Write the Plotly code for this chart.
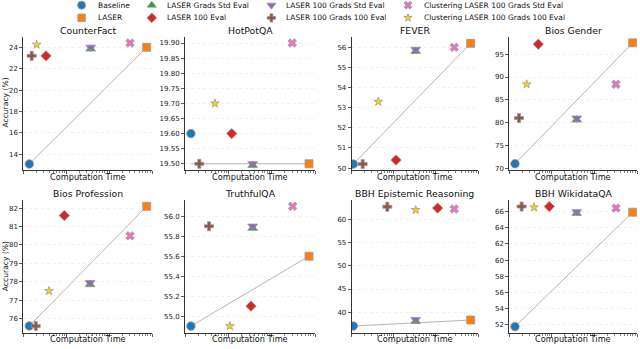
import plotly.graph_objects as go

# ---------------- data ----------------
datasets = ["CounterFact", "HotPotQA", "FEVER", "Bios Gender",
            "Bios Profession", "TruthfulQA", "BBH Epistemic Reasoning", "BBH WikidataQA"]

series_names = ["Baseline", "LASER", "LASER Grads Std Eval", "LASER 100 Eval",
                "LASER 100 Grads Std Eval", "LASER 100 Grads 100 Eval",
                "Clustering LASER 100 Grads Std Eval", "Clustering LASER 100 Grads 100 Eval"]

# accuracy (%) per dataset (same order as datasets)
acc_baseline        = [13.1, 19.60, 50.2, 71.0, 75.6, 54.90, 37.0, 51.8]
acc_laser           = [24.0, 19.50, 56.2, 97.5, 82.1, 55.60, 38.3, 65.9]
acc_grads_std       = [23.85, 19.495, 55.8, 80.6, 77.85, 55.88, 38.0, 65.75]
acc_100_eval        = [23.2, 19.60, 50.4, 97.2, 81.6, 55.10, 62.5, 66.6]
acc_100_grads_std   = [24.0, 19.50, 55.9, 81.0, 77.95, 55.90, 38.4, 65.95]
acc_100_grads_100   = [23.2, 19.50, 50.2, 81.0, 75.6, 55.90, 62.8, 66.6]
acc_clust_std       = [24.4, 19.90, 56.0, 88.4, 80.5, 56.10, 62.3, 66.4]
acc_clust_100       = [24.25, 19.70, 53.3, 88.4, 77.5, 54.90, 62.1, 66.5]

# relative computation time (log scale, arbitrary units)
time_baseline       = [1.38, 1.37, 1.09, 1.36, 1.38, 1.37, 1.09, 1.36]
time_laser          = [752, 728, 670, 792, 752, 728, 670, 792]
time_grads_std      = [37.2, 36.5, 33.1, 38.3, 35.9, 36.5, 33.1, 38.3]
time_100_eval       = [3.38, 12.0, 11.3, 4.80, 9.03, 33.3, 110, 8.71]
time_100_grads_std  = [37.2, 36.5, 33.1, 38.3, 35.9, 36.5, 33.1, 38.3]
time_100_grads_100  = [1.57, 2.14, 1.82, 1.69, 1.95, 3.58, 7.01, 1.95]
time_clust_std      = [307, 299, 273, 321, 307, 305, 273, 321]
time_clust_100      = [2.05, 4.92, 4.28, 2.56, 3.97, 10.9, 33.1, 3.80]

# trend line (baseline -> LASER) start value
trend_start = [13.1, 19.50, 50.2, 71.0, 75.6, 54.9, 37.0, 51.8]

# y-axis settings per dataset
y_ranges = [[12.58, 24.99], [19.481, 19.921], [49.93, 56.53], [69.72, 98.85],
            [75.21, 82.43], [54.83, 56.16], [35.47, 64.19], [51.0, 67.37]]
y_dticks = [2, 0.05, 1, 5, 1, 0.2, 5, 2]
y_formats = ["d", ".2f", "d", "d", "d", ".1f", "d", "d"]

all_acc = [acc_baseline, acc_laser, acc_grads_std, acc_100_eval,
           acc_100_grads_std, acc_100_grads_100, acc_clust_std, acc_clust_100]
all_time = [time_baseline, time_laser, time_grads_std, time_100_eval,
            time_100_grads_std, time_100_grads_100, time_clust_std, time_clust_100]

# ---------------- styles ----------------
colors = ["#1f77b4", "#ff7f0e", "#2ca02c", "#d62728", "#9467bd", "#8c564b", "#e377c2", "#ffd700"]
symbols = ["circle", "square", "triangle-up", "diamond", "triangle-down", "cross", "x", "star"]
sizes = [8.5, 8, 8.5, 8, 8.5, 7.5, 7.5, 6.5]
FONT = "DejaVu Sans"
W, H = 640, 349

# subplot pixel boxes (left, right) per column and (top, bottom) per row
col_px = [(23.3, 152), (185, 315), (351.7, 478), (509.3, 637)]
row_px = [(37, 171), (202, 336)]

fig = go.Figure()
layout = dict(width=W, height=H, margin=dict(l=0, r=0, t=0, b=0),
              paper_bgcolor="white", plot_bgcolor="rgba(0,0,0,0)",
              showlegend=False, font=dict(family=FONT, size=7, color="#222"))
annotations = []

for d in range(8):
    r, c = divmod(d, 4)
    k = d + 1
    xa, ya = f"x{k}", f"y{k}"
    xd = [col_px[c][0] / W, col_px[c][1] / W]
    yd = [1 - row_px[r][1] / H, 1 - row_px[r][0] / H]
    layout[f"xaxis{k}"] = dict(domain=xd, anchor=ya, type="log", range=[0, 3],
                               showticklabels=False, ticks="outside", ticklen=3,
                               tickwidth=0.8, tickcolor="#333", dtick=1,
                               showgrid=False, zeroline=False, showline=True,
                               linecolor="#333", linewidth=1,
                               minor=dict(ticks="outside", ticklen=2, tickwidth=0.6,
                                          tickcolor="#333", showgrid=False))
    layout[f"yaxis{k}"] = dict(domain=yd, anchor=xa, range=y_ranges[d], dtick=y_dticks[d],
                               tick0=0, tickformat=y_formats[d], ticks="outside", ticklen=3,
                               tickwidth=0.8, tickcolor="#333", showline=True,
                               linecolor="#333", linewidth=1, zeroline=False,
                               showgrid=True, gridcolor="#ececec", griddash="dot",
                               gridwidth=0.7, tickfont=dict(size=7, color="#222"))
    # trend line baseline -> LASER
    fig.add_trace(go.Scatter(x=[time_baseline[d], time_laser[d]],
                             y=[trend_start[d], acc_laser[d]], mode="lines",
                             line=dict(color="#b5b5b5", width=1), xaxis=xa, yaxis=ya,
                             hoverinfo="skip"))
    for s in range(8):
        fig.add_trace(go.Scatter(x=[all_time[s][d]], y=[all_acc[s][d]], mode="markers",
                                 name=series_names[s], xaxis=xa, yaxis=ya,
                                 marker=dict(symbol=symbols[s], color=colors[s], size=sizes[s],
                                             line=dict(color="#999999", width=0.8))))
    xc = (col_px[c][0] + col_px[c][1]) / 2 / W
    title_y = [31, 195][r]
    xt_y = [179, 342][r]
    annotations.append(dict(text=datasets[d], x=xc, y=1 - title_y / H, xref="paper", yref="paper",
                            showarrow=False, xanchor="center", yanchor="middle",
                            font=dict(family=FONT, size=9.3, color="#111")))
    annotations.append(dict(text="Computation Time", x=xc, y=1 - xt_y / H, xref="paper",
                            yref="paper", showarrow=False, xanchor="center", yanchor="middle",
                            font=dict(family=FONT, size=8.2, color="#111")))
    if c == 0:
        yc = 1 - (row_px[r][0] + row_px[r][1]) / 2 / H
        annotations.append(dict(text="Accuracy (%)", x=5.5 / W, y=yc, xref="paper", yref="paper",
                                showarrow=False, textangle=-90, xanchor="center",
                                yanchor="middle", font=dict(family=FONT, size=7.6, color="#111")))

# ---------------- legend (manual, 4 columns x 2 rows) ----------------
leg_marker_x = [81.6, 151.8, 271.4, 408]
leg_text_x = [95.5, 164.5, 284, 422]
leg_row_y = [5.2, 18.0]
layout["xaxis9"] = dict(domain=[0, 1], anchor="y9", range=[0, W], visible=False, fixedrange=True)
layout["yaxis9"] = dict(domain=[0, 1], anchor="x9", range=[H, 0], visible=False, fixedrange=True)
for s in range(8):
    c, r = divmod(s, 2)
    fig.add_trace(go.Scatter(x=[leg_marker_x[c]], y=[leg_row_y[r]], mode="markers",
                             xaxis="x9", yaxis="y9", hoverinfo="skip",
                             marker=dict(symbol=symbols[s], color=colors[s], size=sizes[s] - 0.5,
                                         line=dict(color="#999999", width=0.8))))
    annotations.append(dict(text=series_names[s], x=leg_text_x[c], y=leg_row_y[r],
                            xref="x9", yref="y9", showarrow=False, xanchor="left",
                            yanchor="middle", font=dict(family=FONT, size=7.5, color="#111")))

layout["annotations"] = annotations
fig.update_layout(**layout)
fig.write_html("out.html", config={"displayModeBar": False, "staticPlot": True},
               post_script="document.body.style.margin='0';document.body.style.overflow='hidden';")
